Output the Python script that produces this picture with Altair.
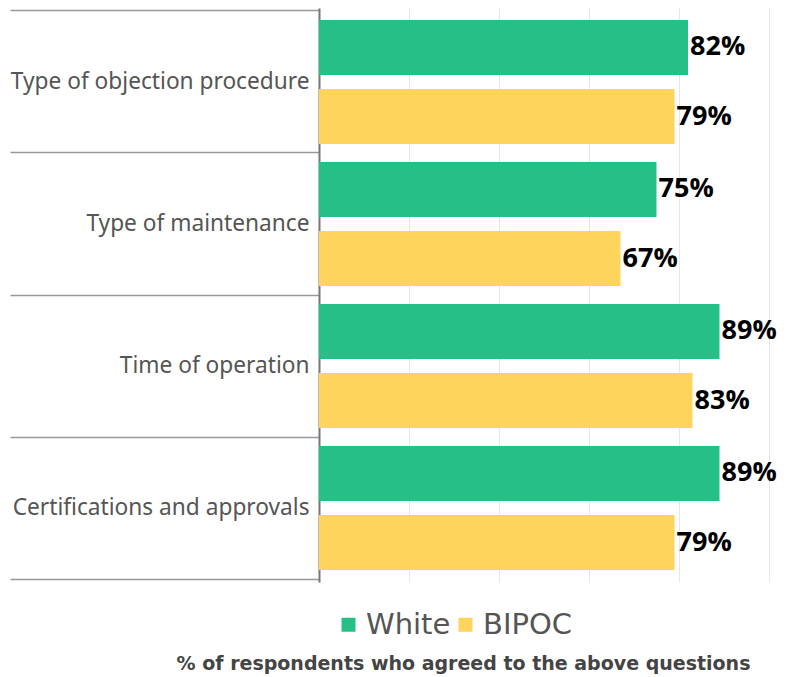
import altair as alt
import pandas as pd

categories = ["Type of objection procedure", "Type of maintenance", "Time of operation", "Certifications and approvals"]
groups = ["White", "BIPOC"]
white_values = [82, 75, 89, 89]
bipoc_values = [79, 67, 83, 79]
colors = ["#26c086", "#ffd45c"]
x_title = "% of respondents who agreed to the above questions"

rows = []
for c, w, b in zip(categories, white_values, bipoc_values):
    rows.append({"category": c, "group": "White", "value": w})
    rows.append({"category": c, "group": "BIPOC", "value": b})
df = pd.DataFrame(rows)
df["label"] = df["value"].astype(str) + "%"

y = alt.Y(
    "category:N", sort=categories,
    scale=alt.Scale(paddingInner=0, paddingOuter=0.021),
    axis=alt.Axis(
        title=None, bandPosition=1, tickExtra=True, tickSize=309, tickColor="#999999",
        tickWidth=1.5, labelPadding=-299, labelFont="Noto Sans", labelFontSize=22.7,
        labelColor="#555555", domainColor="#777777", domainWidth=2, grid=False, labelLimit=400,
    ),
)
yoff = alt.YOffset("group:N", sort=groups, scale=alt.Scale(paddingInner=0.203, paddingOuter=0.13))
x = alt.X(
    "value:Q",
    scale=alt.Scale(domain=[0, 100], nice=False),
    axis=alt.Axis(
        title=x_title, labels=False, ticks=False, domain=False, grid=True,
        gridColor="#e6e6e6", values=[0, 20, 40, 60, 80, 100],
        titleFont="DejaVu Sans", titleFontSize=19, titleFontWeight="bold", titleColor="#444444",
        titleX=144, titleY=87, titleBaseline="alphabetic", titleAlign="center",
    ),
)

base = alt.Chart(df).encode(x=x, y=y, yOffset=yoff)

bars = base.mark_bar().encode(
    color=alt.Color(
        "group:N", sort=groups,
        scale=alt.Scale(domain=groups, range=colors),
        legend=alt.Legend(
            title=None, orient="none", direction="horizontal", legendX=15, legendY=602,
            symbolType="square", symbolSize=196, symbolStrokeWidth=0,
            labelFont="DejaVu Sans", labelFontSize=29, labelColor="#555555",
            labelOffset=3, columnPadding=0, padding=0,
        ),
    )
)

text = base.mark_text(
    align="left", baseline="middle", dx=2, font="Open Sans", fontSize=27,
    fontWeight="bold", color="black",
).encode(text="label:N")

chart = alt.layer(bars, text).properties(
    width=450, height=574,
    autosize=alt.AutoSizeParams(type="none"),
    padding={"left": 311, "top": 0, "right": 11, "bottom": 92},
).configure_view(stroke=None)

chart.save("out.html", embed_options={"renderer": "svg", "actions": False})
